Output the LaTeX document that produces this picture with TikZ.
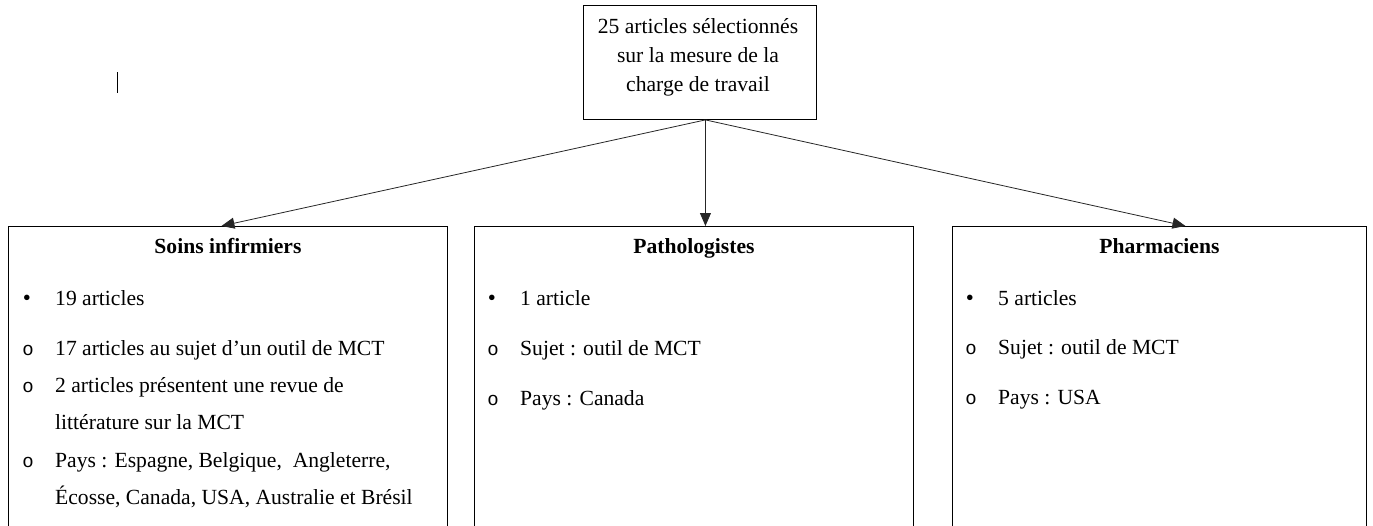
\documentclass[tikz,border=0pt]{standalone}
\usepackage{fontspec}
\setmainfont{Liberation Serif}
\newfontfamily\monofnt{Liberation Mono}
\usetikzlibrary{arrows.meta}
\begin{document}
\begin{tikzpicture}[x=1pt,y=-1pt,
  box/.style={draw=black,line width=0.9pt,anchor=north west,inner sep=0pt},
  txt/.style={font=\fontsize{21.6}{29}\selectfont,inner sep=0pt,anchor=base west},
  ttl/.style={font=\fontsize{21.6}{29}\selectfont\bfseries,inner sep=0pt,anchor=base},
  fbul/.style={font=\fontsize{23}{24}\selectfont,inner sep=0pt,anchor=base},
  hbul/.style={font=\fontsize{19}{20}\selectfont\monofnt,inner sep=0pt,anchor=base},
  arr/.style={draw=black!85,line width=0.8pt,-{Triangle[length=13pt,width=11pt]}}
]
\useasboundingbox (0,0) rectangle (1373,525);
\clip (0,0) rectangle (1373,525);

% top box
\node[box,minimum width=233pt,minimum height=114pt] (top) at (583,5) {};
\node[font=\fontsize{21.6}{29}\selectfont,align=center,inner sep=0pt] (toptxt) at (698,57)
  {25 articles sélectionnés\\sur la mesure de la\\charge de travail};

% cursor mark
\draw[line width=0.8pt] (117,72) -- (117,93);

% three boxes
\node[box,minimum width=439pt,minimum height=340pt] (soins) at (8,226) {};
\node[box,minimum width=439pt,minimum height=340pt] (path) at (474,226) {};
\node[box,minimum width=414pt,minimum height=340pt] (pharm) at (952,226) {};

% titles
\node[ttl] (t1) at ([yshift=-27pt]soins.north) {Soins infirmiers};
\node[ttl] (t2) at ([yshift=-27pt]path.north) {Pathologistes};
\node[ttl] (t3) at ([yshift=-27pt]pharm.north) {Pharmaciens};

% left items
\node[fbul] (b11) at (27,305) {•};
\node[txt] (i11) at (55,305) {19 articles};
\node[hbul] (b12) at (28,355) {o};
\node[txt] (i12) at (55,355) {17 articles au sujet d’un outil de MCT};
\node[hbul] (b13) at (28,392) {o};
\node[txt] (i13) at (55,392) {2 articles présentent une revue de};
\node[txt] (i13b) at (55,429) {littérature sur la MCT};
\node[hbul] (b14) at (28,467) {o};
\node[txt] (i14) at (55,467) {Pays : Espagne, Belgique,\ \ Angleterre,};
\node[txt] (i14b) at (55,504) {Écosse, Canada, USA, Australie et Brésil};

% middle items
\node[fbul] (b21) at (492,305) {•};
\node[txt] (i21) at (520,305) {1 article};
\node[hbul] (b22) at (493,355) {o};
\node[txt] (i22) at (520,355) {Sujet : outil de MCT};
\node[hbul] (b23) at (493,405) {o};
\node[txt] (i23) at (520,405) {Pays : Canada};

% right items
\node[fbul] (b31) at (970,305) {•};
\node[txt] (i31) at (998,305) {5 articles};
\node[hbul] (b32) at (971,354) {o};
\node[txt] (i32) at (998,354) {Sujet : outil de MCT};
\node[hbul] (b33) at (971,404) {o};
\node[txt] (i33) at (998,404) {Pays : USA};

% arrows
\draw[arr] ([xshift=5.5pt]top.south) -- ([xshift=-6.5pt]soins.north);
\draw[arr] ([xshift=5.5pt]top.south) -- ([xshift=11.5pt]path.north);
\draw[arr] ([xshift=5.5pt]top.south) -- ([xshift=26pt]pharm.north);
\end{tikzpicture}
\end{document}
